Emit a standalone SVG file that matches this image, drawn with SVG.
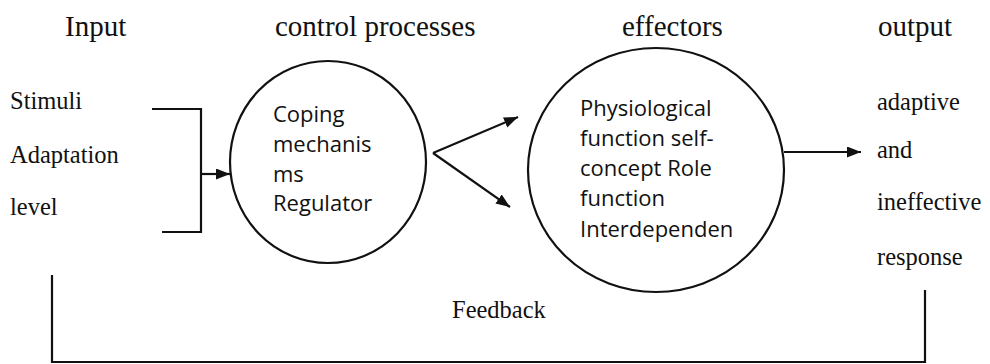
<svg xmlns="http://www.w3.org/2000/svg" width="990" height="364" viewBox="0 0 990 364">
<style>
.h{font-family:"Liberation Serif","Times New Roman",serif;font-size:29px;fill:#111}
.t{font-family:"Liberation Serif","Times New Roman",serif;font-size:24.5px;fill:#111}
.s{font-family:"Open Sans","Noto Sans",sans-serif;font-size:22px;fill:#111}
.ln{fill:none;stroke:#111;stroke-width:2.2}
</style>
<defs>
<marker id="ah" markerUnits="userSpaceOnUse" markerWidth="16" markerHeight="13" refX="14" refY="5.5" orient="auto">
<path d="M0,0 L14,5.5 L0,11 Z" fill="#111"/>
</marker>
</defs>
<rect width="990" height="364" fill="#fff"/>
<g id="headings">
<text class="h" x="65" y="36">Input</text>
<text class="h" x="275" y="36">control processes</text>
<text class="h" x="622" y="36">effectors</text>
<text class="h" x="878" y="36">output</text>
</g>
<g id="input">
<text class="t" x="10" y="109">Stimuli</text>
<text class="t" x="10" y="163">Adaptation</text>
<text class="t" x="10" y="215">level</text>
</g>
<g id="control">
<ellipse class="ln" cx="328" cy="162" rx="98" ry="101"/>
<text class="s" x="273" y="122">Coping</text>
<text class="s" x="273" y="152">mechanis</text>
<text class="s" x="273" y="182">ms</text>
<text class="s" x="273" y="211">Regulator</text>
</g>
<g id="effectors">
<ellipse class="ln" cx="656" cy="170" rx="128" ry="122"/>
<text class="s" x="580" y="116">Physiological</text>
<text class="s" x="580" y="146">function self-</text>
<text class="s" x="580" y="176">concept Role</text>
<text class="s" x="580" y="206">function</text>
<text class="s" x="580" y="237">Interdependen</text>
</g>
<g id="output">
<text class="t" x="877" y="110">adaptive</text>
<text class="t" x="877" y="158">and</text>
<text class="t" x="877" y="210">ineffective</text>
<text class="t" x="877" y="265">response</text>
</g>
<g id="feedback-label">
<text class="t" x="452" y="318">Feedback</text>
</g>
<g id="connectors">
<polyline class="ln" points="152,109 201,109 201,232 162,232"/>
<line class="ln" x1="201" y1="174" x2="230" y2="174" marker-end="url(#ah)"/>
<line class="ln" x1="433" y1="153" x2="518" y2="117" marker-end="url(#ah)"/>
<line class="ln" x1="433" y1="153" x2="510" y2="207" marker-end="url(#ah)"/>
<line class="ln" x1="784" y1="152" x2="861" y2="152" marker-end="url(#ah)"/>
<polyline class="ln" points="52,275 52,362 925,362 925,290"/>
</g>
</svg>
